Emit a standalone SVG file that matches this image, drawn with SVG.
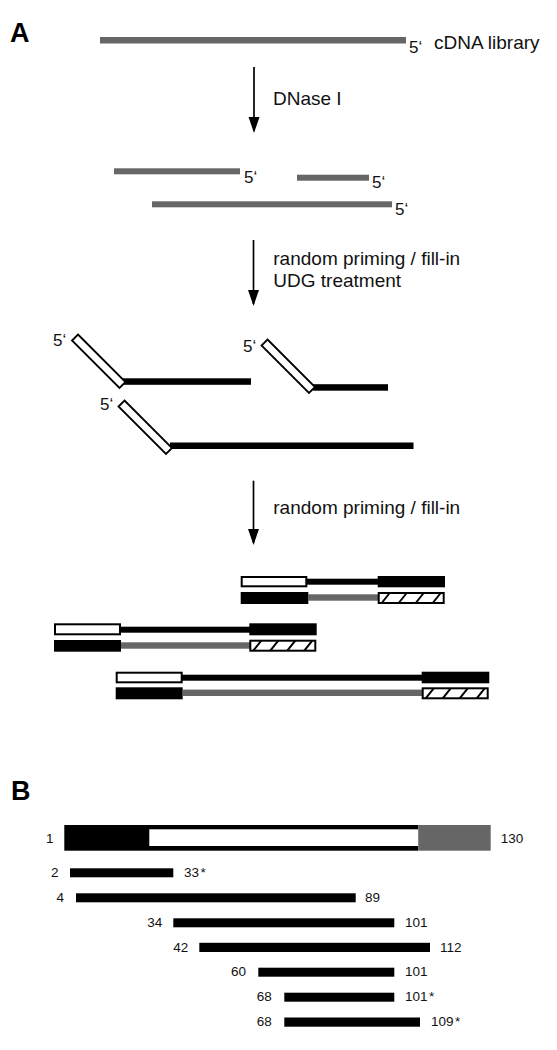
<svg xmlns="http://www.w3.org/2000/svg" width="557" height="1050" viewBox="0 0 557 1050">
<style>
.lbl{font-family:"Liberation Sans",Arial,sans-serif;font-size:19px;fill:#111}
.p5{font-family:"Liberation Sans",Arial,sans-serif;font-size:17px;fill:#111}
.num{font-family:"Liberation Sans",Arial,sans-serif;font-size:13.5px;fill:#111}
.panel{font-family:"Liberation Sans",Arial,sans-serif;font-size:27px;font-weight:bold;fill:#000}
.gray{fill:#666}
.blk{fill:#000}
.wbox{fill:#fff;stroke:#000;stroke-width:2}
.prim{fill:#fff;stroke:#000;stroke-width:1.8;stroke-linejoin:miter}
.arr{stroke:#000;stroke-width:1.7;fill:none}
.hl{stroke:#000;stroke-width:2;fill:none}
</style>
<defs>
<marker id="ah" markerUnits="userSpaceOnUse" markerWidth="16" markerHeight="12" refX="14" refY="5.5" orient="auto">
<path d="M0,0 L16,5.5 L0,11 z" fill="#000"/>
</marker>
<g id="hatch">
<rect x="1" y="1" width="65" height="10" class="wbox"/>
<path class="hl" d="M4,11 L12,1 M21,11 L29,1 M38,11 L46,1 M55,11 L63,1"/>
</g>
</defs>
<rect width="557" height="1050" fill="#fff"/>

<text class="panel" x="10" y="42">A</text>
<text class="panel" x="11" y="800">B</text>

<g id="cdna">
<rect class="gray" x="100" y="37" width="306" height="6.5"/>
<text class="p5" x="409" y="52.5">5‘</text>
<text class="lbl" x="434" y="48.5">cDNA library</text>
</g>

<g id="frag1">
<rect class="gray" x="114" y="168.3" width="126" height="6"/>
<text class="p5" x="244" y="183.3">5‘</text>
</g>
<g id="frag2">
<rect class="gray" x="297" y="174.7" width="72" height="6"/>
<text class="p5" x="372" y="188.3">5‘</text>
</g>
<g id="frag3">
<rect class="gray" x="152" y="201.3" width="240" height="6"/>
<text class="p5" x="395" y="215">5‘</text>
</g>

<g id="primed1">
<rect class="blk" x="123" y="378.3" width="128" height="6.5"/>
<polygon class="prim" points="78,334.5 125.5,382 119.5,388 72,340.5"/>
<text class="p5" x="53" y="346">5‘</text>
</g>
<g id="primed2">
<rect class="blk" x="313" y="384.2" width="75" height="6.5"/>
<polygon class="prim" points="267.5,339.5 315,387 309,393 261.5,345.5"/>
<text class="p5" x="243" y="351.7">5‘</text>
</g>
<g id="primed3">
<rect class="blk" x="170" y="442.5" width="243.5" height="6.5"/>
<polygon class="prim" points="124.5,400.5 172,448 166,454 118.5,406.5"/>
<text class="p5" x="100" y="410">5‘</text>
</g>

<g id="duplex1">
<rect class="blk" x="306" y="578.7" width="72" height="6"/>
<rect class="wbox" x="241.7" y="577" width="64.6" height="9.3"/>
<rect class="blk" x="377.7" y="576" width="67.3" height="11.3"/>
<rect class="blk" x="240.7" y="592" width="67.6" height="12"/>
<rect class="gray" x="308" y="594.3" width="70" height="6.4"/>
<use href="#hatch" x="377.7" y="592"/>
</g>
<g id="duplex2">
<rect class="blk" x="120" y="626.7" width="130" height="6"/>
<rect class="wbox" x="55" y="624.3" width="65" height="10"/>
<rect class="blk" x="249.3" y="623.3" width="67.4" height="12"/>
<rect class="blk" x="54" y="640" width="67" height="11.7"/>
<rect class="gray" x="121" y="642.3" width="129" height="6.4"/>
<use href="#hatch" x="249.3" y="639.7"/>
</g>
<g id="duplex3">
<rect class="blk" x="182" y="674.7" width="240" height="6"/>
<rect class="wbox" x="116.7" y="672.7" width="65" height="9.6"/>
<rect class="blk" x="421.7" y="671.7" width="67.6" height="11.6"/>
<rect class="blk" x="115.7" y="687.3" width="67" height="12"/>
<rect class="gray" x="182.7" y="689.6" width="239.5" height="6.4"/>
<use href="#hatch" x="421.7" y="687.3"/>
</g>

<g id="connectors">
<line class="arr" x1="254" y1="67" x2="254" y2="131" marker-end="url(#ah)"/>
<line class="arr" x1="253.5" y1="240" x2="253.5" y2="304" marker-end="url(#ah)"/>
<line class="arr" x1="253.5" y1="480.7" x2="253.5" y2="543" marker-end="url(#ah)"/>
</g>

<g id="step-labels">
<text class="lbl" x="273" y="105">DNase I</text>
<text class="lbl" x="273.3" y="265">random priming / fill-in</text>
<text class="lbl" x="273.3" y="286.7">UDG treatment</text>
<text class="lbl" x="273.3" y="514">random priming / fill-in</text>
</g>

<g id="protein">
<rect class="blk" x="64.3" y="825" width="354" height="25.7"/>
<rect x="149.3" y="829.3" width="269" height="16.7" fill="#fff"/>
<rect class="gray" x="418.3" y="825" width="72.4" height="25.7"/>
<text class="num" x="53.5" y="842.7" text-anchor="end">1</text>
<text class="num" x="500.7" y="842.7">130</text>
</g>

<g id="b1">
<rect class="blk" x="70" y="868.3" width="103.3" height="9"/>
<text class="num" x="58.5" y="876.8" text-anchor="end">2</text>
<text class="num" x="184" y="876.8">33<tspan dx="1.5">*</tspan></text>
</g>
<g id="b2">
<rect class="blk" x="76" y="893.3" width="279.7" height="9"/>
<text class="num" x="64" y="901.8" text-anchor="end">4</text>
<text class="num" x="365" y="901.8">89</text>
</g>
<g id="b3">
<rect class="blk" x="173.3" y="918.3" width="221" height="9"/>
<text class="num" x="162.3" y="926.8" text-anchor="end">34</text>
<text class="num" x="405" y="926.8">101</text>
</g>
<g id="b4">
<rect class="blk" x="199.3" y="942.8" width="230.7" height="9.2"/>
<text class="num" x="188.3" y="951.5" text-anchor="end">42</text>
<text class="num" x="440" y="951.5">112</text>
</g>
<g id="b5">
<rect class="blk" x="258.3" y="967.7" width="136" height="9"/>
<text class="num" x="246" y="976.2" text-anchor="end">60</text>
<text class="num" x="405" y="976.2">101</text>
</g>
<g id="b6">
<rect class="blk" x="284.3" y="992.7" width="110" height="9"/>
<text class="num" x="271.7" y="1001.2" text-anchor="end">68</text>
<text class="num" x="405" y="1001.2">101<tspan dx="1.5">*</tspan></text>
</g>
<g id="b7">
<rect class="blk" x="284.3" y="1017.5" width="135.7" height="9.2"/>
<text class="num" x="271.7" y="1026.2" text-anchor="end">68</text>
<text class="num" x="431" y="1026.2">109<tspan dx="1.5">*</tspan></text>
</g>
</svg>
